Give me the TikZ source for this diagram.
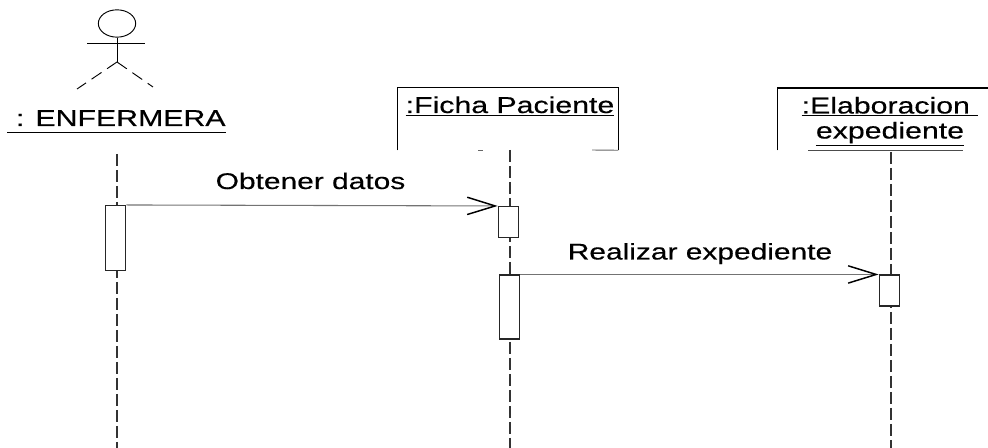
\documentclass[tikz,border=0pt]{standalone}
\usepackage{fontspec}
\setmainfont[FakeStretch=1.32, FakeBold=0.4]{Liberation Sans}
\usetikzlibrary{arrows.meta, shapes.geometric}

\tikzset{
	msgtext/.style={inner sep=0pt, font=\fontsize{17}{18.75}\selectfont},
	objtext/.style={inner sep=0pt, align=center, font=\fontsize{17.2}{18.75}\selectfont},
	objbox/.style={minimum width=165pt, minimum height=46.5pt, inner sep=0pt},
	lifeline/.style={line width=0.8pt, dash pattern=on 9pt off 3pt, black!80},
	activation/.style={draw=black!85, fill=white, line width=0.8pt, minimum width=15.5pt, inner sep=0pt},
	message/.style={line width=0.8pt, black!55, -{Straight Barb[black, length=21pt, width=13pt, line width=1.1pt]}},
}

\begin{document}
\begin{tikzpicture}[x=0.75pt, y=-0.75pt]
\useasboundingbox (0,0) rectangle (988,448);

% actor
\node[draw, ellipse, line width=0.7pt, minimum width=28pt, minimum height=20.5pt, inner sep=0pt] (head) at (117,23.5) {};
\coordinate (armleft) at (87,43);
\coordinate (armright) at (145,43);
\coordinate (hip) at (117,62);
\coordinate (footleft) at (77,89);
\coordinate (footright) at (153,87);
\draw[line width=0.7pt] (armleft) -- (armright);
\draw[line width=0.7pt] (head.south) -- (hip);
\draw[line width=0.7pt, dash pattern=on 9pt off 5pt] (hip) -- (footleft);
\draw[line width=0.7pt, dash pattern=on 9pt off 5pt] (hip) -- (footright);
\node[objtext, anchor=base] (enfermera) at (116.5,126) {\underline{\vphantom{p}\ : ENFERMERA}};

% object boxes
\node[objbox] (fichabox) at (508,119) {};
\node[objtext, anchor=base] (ficha) at (510,113) {\underline{:Ficha Paciente}};
\draw[line width=0.8pt] (fichabox.south west) |- (fichabox.north east) -- (fichabox.south east);
\coordinate (ficharest) at (592,150);
\coordinate (fichamark) at (478,150);
\coordinate (fichamarkend) at (483,150);
\draw[line width=0.7pt, black!60] (ficharest) -- (fichabox.south east);
\draw[line width=0.7pt, black!60] (fichamark) -- (fichamarkend);

\node[objbox] (elabbox) at (888,119) {};
\node[objtext, anchor=base] (elab) at (890,138.5) {\underline{:Elaboracion\ }\\\underline{expediente}};
\coordinate (elabend) at (988,88);
\coordinate (elabfootleft) at (808,150);
\coordinate (elabfootright) at (963,150);
\draw[line width=0.8pt] (elabbox.south west) |- (elabend);
\draw[line width=0.7pt, black!70] (elabfootleft) -- (elabfootright);

% lifelines
\coordinate (enfstart) at (117,154);
\coordinate (enfend) at (117,448);
\coordinate (fichastart) at (510,150);
\coordinate (fichaend) at (510,448);
\coordinate (elabstart) at (891,152);
\coordinate (elabfinish) at (891,448);
\draw[lifeline] (enfstart) -- (enfend);
\draw[lifeline] (fichastart) -- (fichaend);
\draw[lifeline] (elabstart) -- (elabfinish);

% activations
\node[activation, minimum height=48.75pt] (enfact) at (115.5,238) {};
\node[activation, minimum height=23.25pt] (fichaacta) at (508.5,222) {};
\node[activation, minimum height=48pt] (fichaactb) at (509.5,307) {};
\node[activation, minimum height=23.25pt] (elabact) at (889.5,290.5) {};

% messages
\draw[message] (enfact.north east) -- (fichaacta.north west);
\draw[message] (fichaactb.north east) -- (elabact.north west);
\node[msgtext, anchor=base] (obtener) at (310.5,189) {Obtener datos};
\node[msgtext, anchor=base] (realizar) at (700,259.5) {Realizar expediente};
\end{tikzpicture}
\end{document}
